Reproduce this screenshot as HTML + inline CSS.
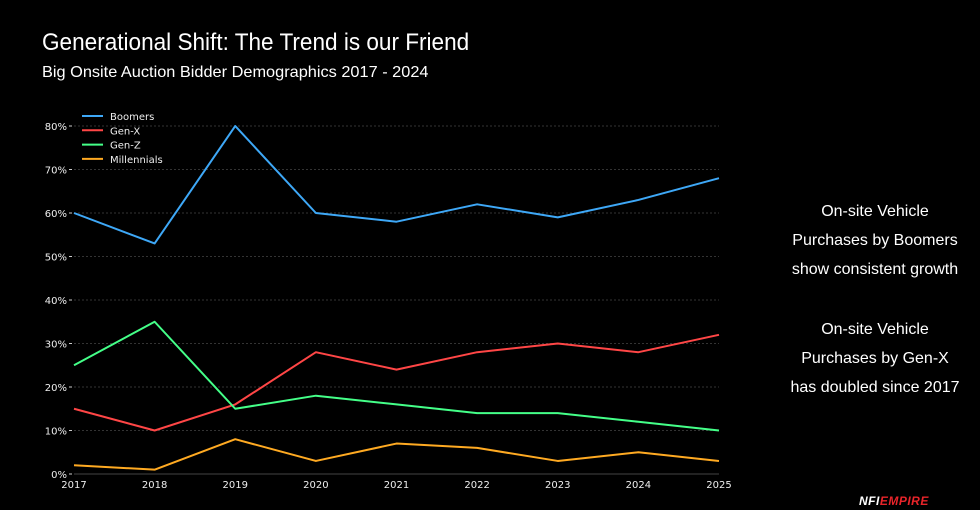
<!DOCTYPE html>
<html><head><meta charset="utf-8"><style>
body{margin:0;background:#000;width:980px;height:510px;overflow:hidden;font-family:"Liberation Sans",sans-serif;color:#fff;position:relative}
#title{position:absolute;left:42px;top:29px;font-size:24px;transform:scaleX(0.94);transform-origin:left top}
#sub{position:absolute;left:42px;top:64px;font-size:16px;transform:scaleX(1.02);transform-origin:left top}
.note{position:absolute;left:770px;width:210px;text-align:center;font-size:16px;line-height:29px}
#logo{position:absolute;left:859px;top:494px;font-size:12px;font-weight:bold;letter-spacing:0.5px;font-style:italic}
svg{position:absolute;left:0;top:0}
</style></head><body>
<div id="title">Generational Shift: The Trend is our Friend</div>
<div id="sub">Big Onsite Auction Bidder Demographics 2017 - 2024</div>
<div class="note" style="top:197px">On-site Vehicle<br>Purchases by Boomers<br>show consistent growth</div>
<div class="note" style="top:315px">On-site Vehicle<br>Purchases by Gen-X<br>has doubled since 2017</div>
<div id="logo"><span style="color:#fff">NFI</span><span style="color:#e8242a">EMPIRE</span></div>
<svg id="chart" width="980" height="510"></svg>
<script>
const years=[2017,2018,2019,2020,2021,2022,2023,2024,2025];
const yTicks=[0,10,20,30,40,50,60,70,80];
const boomers=[60,53,80,60,58,62,59,63,68];
const genX=[15,10,16,28,24,28,30,28,32];
const genZ=[25,35,15,18,16,14,14,12,10];
const millennials=[2,1,8,3,7,6,3,5,3];
const seriesNames=['Boomers','Gen-X','Gen-Z','Millennials'];
const seriesColors=['#3ea8f7','#ff4646','#44ff88','#ffaa22'];
const seriesData=[boomers,genX,genZ,millennials];
const svg=document.getElementById('chart');
const NS='http://www.w3.org/2000/svg';
const x0=74,x1=719,y0=474,y80=126;
const xs=y=>x0+(y-years[0])/(years[years.length-1]-years[0])*(x1-x0);
const ys=v=>y0-v/80*(y0-y80);
function mk(t,a){const e=document.createElementNS(NS,t);for(const k in a)e.setAttribute(k,a[k]);svg.appendChild(e);return e;}
yTicks.forEach(t=>{
 const g=mk('line',{x1:x0,x2:x1,y1:ys(t),y2:ys(t),stroke:t===0?'#444':'#333','stroke-width':1,'stroke-dasharray':t===0?'':'2,2'});
 
 
 mk('line',{x1:x0-5,x2:x0-2,y1:ys(t),y2:ys(t),stroke:'#ccc'});
 const l=mk('text',{x:x0-7,y:ys(t)+4,'text-anchor':'end',fill:'#eee','font-size':10,'font-family':'DejaVu Sans, sans-serif'});
 l.textContent=t+'%';
 
 
});
years.forEach(y=>{
 const l=mk('text',{x:xs(y),y:y0+14,'text-anchor':'middle',fill:'#eee','font-size':10,'font-family':'DejaVu Sans, sans-serif'});
 l.textContent=y;
 
 
});
seriesData.forEach((d,i)=>{
 const p=mk('polyline',{points:d.map((v,j)=>xs(years[j])+','+ys(v)).join(' '),fill:'none',stroke:seriesColors[i],'stroke-width':2,'stroke-linejoin':'round'});
 
 
 const ly=116+i*14.3;
 const ll=mk('line',{x1:82,x2:103,y1:ly,y2:ly,stroke:seriesColors[i],'stroke-width':2});
 
 
 const lt=mk('text',{x:110,y:ly+4,fill:'#eee','font-size':10,'font-family':'DejaVu Sans, sans-serif'});
 lt.textContent=seriesNames[i];
 
 
});
</script>
</body></html>
